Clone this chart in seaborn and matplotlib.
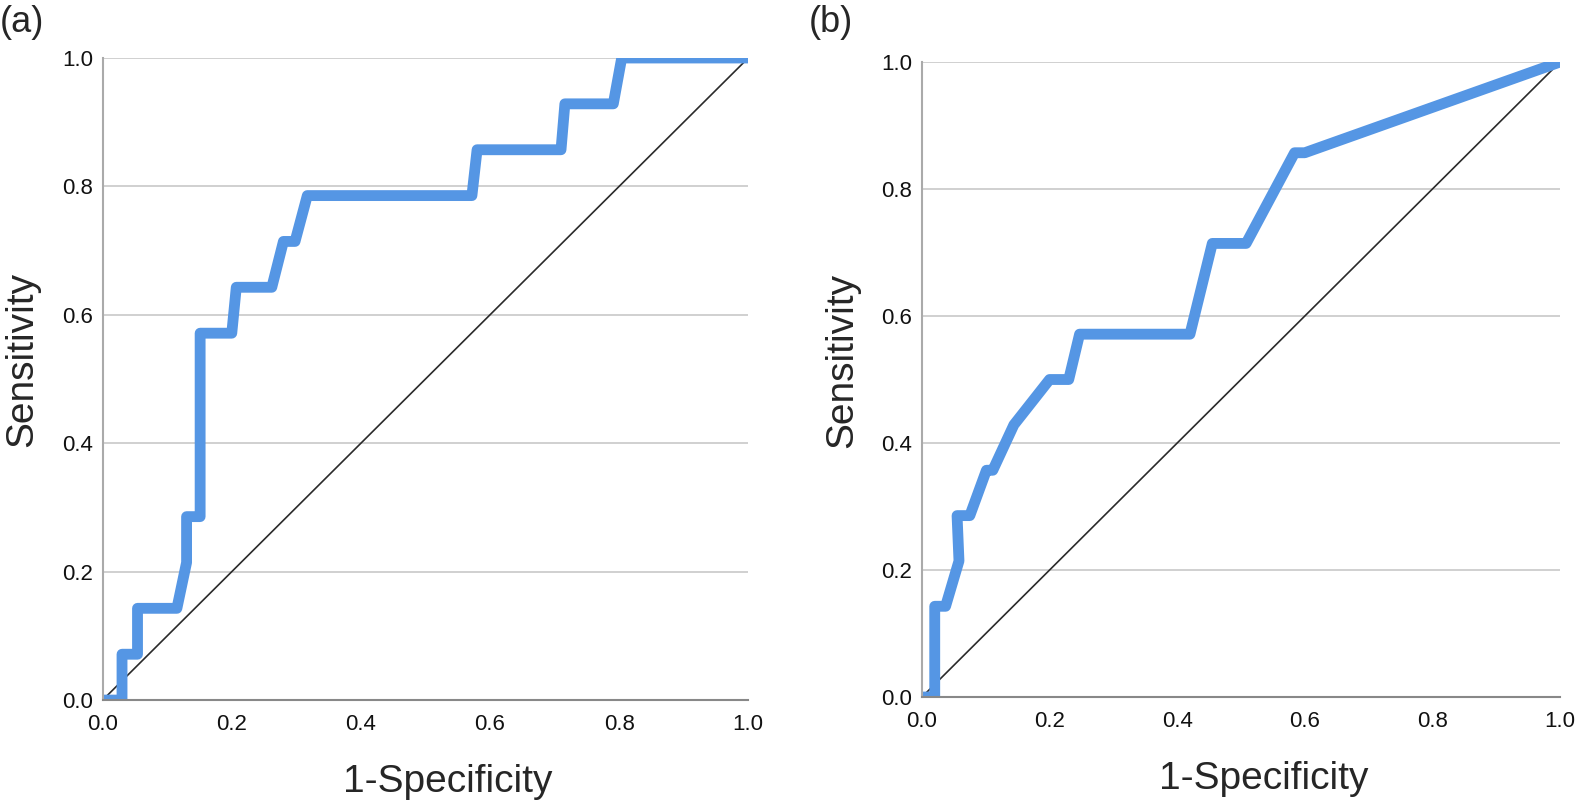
import numpy as np
import pandas as pd
import matplotlib
matplotlib.use('Agg')
import matplotlib.pyplot as plt
import seaborn as sns

# ROC curve (a): 1-specificity vs sensitivity
fpr_a = [0.0, 0.030, 0.030, 0.054, 0.054, 0.115, 0.130, 0.130, 0.151, 0.151,
         0.200, 0.207, 0.262, 0.280, 0.298, 0.317, 0.572, 0.580, 0.710, 0.716,
         0.791, 0.804, 1.0]
tpr_a = [0.0, 0.0, 0.0714, 0.0714, 0.1429, 0.1429, 0.2143, 0.2857, 0.2857, 0.5714,
         0.5714, 0.6429, 0.6429, 0.7143, 0.7143, 0.7857, 0.7857, 0.8571, 0.8571, 0.9286,
         0.9286, 1.0, 1.0]

# ROC curve (b)
fpr_b = [0.0, 0.020, 0.020, 0.037, 0.058, 0.055, 0.075, 0.101, 0.111, 0.144,
         0.200, 0.230, 0.247, 0.420, 0.455, 0.508, 0.584, 0.600, 1.0]
tpr_b = [0.0, 0.0, 0.1429, 0.1429, 0.2143, 0.2857, 0.2857, 0.3571, 0.3571, 0.4286,
         0.5, 0.5, 0.5714, 0.5714, 0.7143, 0.7143, 0.8571, 0.8571, 1.0]

ref_line = [0.0, 1.0]
ticks = [0.0, 0.2, 0.4, 0.6, 0.8, 1.0]
panel_labels = ['(a)', '(b)']

sns.set_style('white')
plt.rcParams['font.family'] = ['Liberation Sans', 'DejaVu Sans']

fig = plt.figure(figsize=(15.94, 8.01), dpi=100)
ax_a = fig.add_axes([0.0644, 0.126, 0.405, 0.8016])
ax_b = fig.add_axes([0.5784, 0.1298, 0.4003, 0.7928])

curves = [(ax_a, fpr_a, tpr_a), (ax_b, fpr_b, tpr_b)]
for i, (ax, fpr, tpr) in enumerate(curves):
    df = pd.DataFrame({'fpr': fpr, 'tpr': tpr})
    for t in ticks[1:]:
        ax.axhline(t, color='#c8c8c8', lw=1.2, zorder=0)
    sns.lineplot(x=ref_line, y=ref_line, ax=ax, color='#2a2a2a', lw=1.2)
    sns.lineplot(data=df, x='fpr', y='tpr', ax=ax, sort=False, estimator=None,
                 color='#5596e4', lw=7.8, solid_joinstyle='round', solid_capstyle='butt')
    ax.set_xlim(0, 1)
    ax.set_ylim(0, 1)
    ax.set_xticks(ticks)
    ax.set_yticks(ticks)
    ax.set_xticklabels([f'{t:.1f}' for t in ticks])
    ax.set_yticklabels([f'{t:.1f}' for t in ticks])
    ax.tick_params(axis='both', length=0, labelsize=16, colors='#111111')
    ax.tick_params(axis='y', pad=7)
    ax.tick_params(axis='x', pad=10)
    ax.spines['top'].set_visible(False)
    ax.spines['right'].set_visible(False)
    ax.spines['left'].set_color('#aaaaaa')
    ax.spines['bottom'].set_color('#888888')
    ax.spines['left'].set_linewidth(1.5)
    ax.spines['bottom'].set_linewidth(1.5)
    ax.set_xlabel('1-Specificity', fontsize=28)
    ax.set_ylabel('Sensitivity', fontsize=28)
    ax.xaxis.set_label_coords(0.535, -0.1)
    ax.yaxis.set_label_coords(-0.096, 0.53)

fig.text(0.014, 0.972, panel_labels[0], fontsize=26, ha='center', va='center')
fig.text(0.521, 0.972, panel_labels[1], fontsize=26, ha='center', va='center')

fig.savefig('out.png', dpi=100)
